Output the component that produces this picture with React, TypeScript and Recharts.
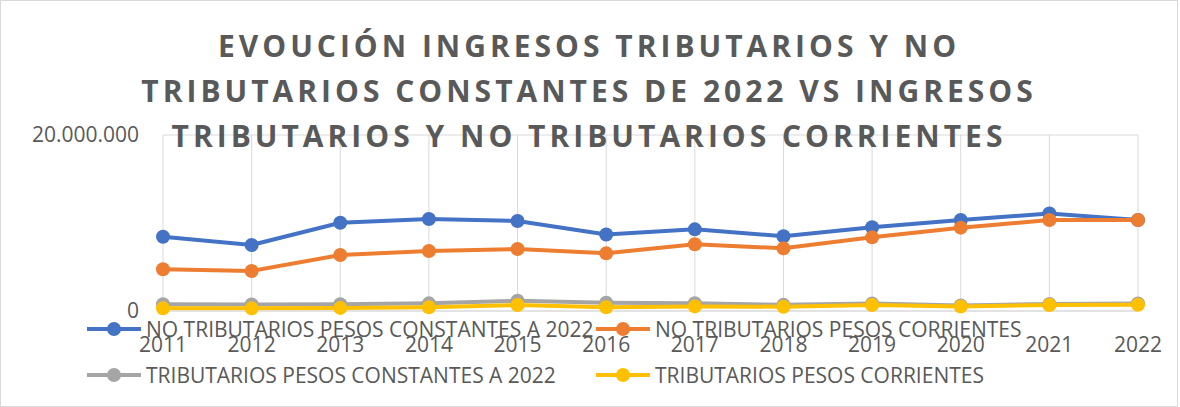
import { CartesianGrid, Line, LineChart, XAxis, YAxis } from "recharts";

const years = ["2011", "2012", "2013", "2014", "2015", "2016", "2017", "2018", "2019", "2020", "2021", "2022"];

// valores en pesos
const noTribConstantes = [8440000, 7500000, 10030000, 10450000, 10230000, 8700000, 9280000, 8500000, 9510000, 10340000, 11080000, 10340000];
const noTribCorrientes = [4740000, 4550000, 6360000, 6820000, 7050000, 6550000, 7580000, 7120000, 8370000, 9470000, 10340000, 10340000];
const tribConstantes = [760000, 740000, 760000, 870000, 1170000, 940000, 880000, 700000, 860000, 620000, 800000, 850000];
const tribCorrientes = [300000, 300000, 350000, 420000, 680000, 420000, 520000, 490000, 680000, 500000, 680000, 700000];

const yTicks = [0, 20000000];

const titleLines = [
  "EVOUCIÓN INGRESOS TRIBUTARIOS Y NO",
  "TRIBUTARIOS CONSTANTES DE 2022 VS INGRESOS",
  "TRIBUTARIOS Y NO TRIBUTARIOS CORRIENTES",
];

const series = [
  { key: "noTribConstantes", name: "NO TRIBUTARIOS PESOS CONSTANTES A 2022", color: "#4472c4" },
  { key: "noTribCorrientes", name: "NO TRIBUTARIOS PESOS CORRIENTES", color: "#ed7d31" },
  { key: "tribConstantes", name: "TRIBUTARIOS PESOS CONSTANTES A 2022", color: "#a5a5a5" },
  { key: "tribCorrientes", name: "TRIBUTARIOS PESOS CORRIENTES", color: "#ffc000" },
];

const data = years.map((year, i) => ({
  year,
  noTribConstantes: noTribConstantes[i],
  noTribCorrientes: noTribCorrientes[i],
  tribConstantes: tribConstantes[i],
  tribCorrientes: tribCorrientes[i],
}));

const textColor = "#595959";
const font = "'Open Sans', sans-serif";

const fmt = (v: number) => String(v).replace(/\B(?=(\d{3})+(?!\d))/g, ".");

function LegendIcon({ color }: { color: string }) {
  return (
    <svg width={54} height={16} style={{ flex: "none" }}>
      <line x1={0} y1={8} x2={54} y2={8} stroke={color} strokeWidth={4} />
      <circle cx={27} cy={8} r={7} fill={color} />
    </svg>
  );
}

function ChartLegend() {
  return (
    <div
      style={{
        position: "absolute",
        left: 86,
        top: 305,
        display: "grid",
        gridTemplateColumns: "509px auto",
        gridAutoRows: "46px",
        fontFamily: font,
        fontSize: 21,
        color: textColor,
        pointerEvents: "none",
      }}
    >
      {series.map((s) => (
        <div key={s.key} style={{ display: "flex", alignItems: "center", gap: 5, whiteSpace: "nowrap" }}>
          <LegendIcon color={s.color} />
          <span>{s.name}</span>
        </div>
      ))}
    </div>
  );
}

export default function App() {
  return (
    <div
      style={{
        position: "absolute",
        left: 0,
        top: 0,
        width: 1176,
        height: 405,
        border: "1px solid #d9d9d9",
        background: "#fff",
      }}
    >
      <LineChart
        width={1176}
        height={405}
        data={data}
        margin={{ top: 134, right: 39, left: 0, bottom: 65 }}
      >
        <CartesianGrid stroke="#d9d9d9" strokeWidth={1} vertical horizontal />
        <XAxis
          dataKey="year"
          axisLine={{ stroke: "#d9d9d9" }}
          tickLine={false}
          tickSize={0}
          tickMargin={26}
          height={30}
          padding={{ left: 0, right: 0 }}
          tick={{ fill: textColor, fontSize: 21, fontFamily: font }}
        />
        <YAxis
          width={162}
          domain={[0, 20000000]}
          ticks={yTicks}
          tickFormatter={fmt}
          axisLine={false}
          tickLine={false}
          tickSize={0}
          tickMargin={24}
          tick={{ fill: textColor, fontSize: 21, fontFamily: font }}
        />
        {series.map((s) => (
          <Line
            key={s.key}
            dataKey={s.key}
            name={s.name}
            stroke={s.color}
            strokeWidth={4}
            dot={{ r: 7, fill: s.color, stroke: s.color, strokeWidth: 0 }}
            activeDot={false}
            isAnimationActive={false}
          />
        ))}
      </LineChart>
      <ChartLegend />
      <div
        style={{
          position: "absolute",
          left: 0,
          top: 22,
          width: 1176,
          textAlign: "center",
          fontFamily: font,
          fontWeight: 700,
          fontSize: 30,
          letterSpacing: 4,
          lineHeight: "45px",
          color: textColor,
          pointerEvents: "none",
        }}
      >
        {titleLines.map((l) => (
          <div key={l} style={{ whiteSpace: "nowrap" }}>
            {l}
          </div>
        ))}
      </div>
    </div>
  );
}
